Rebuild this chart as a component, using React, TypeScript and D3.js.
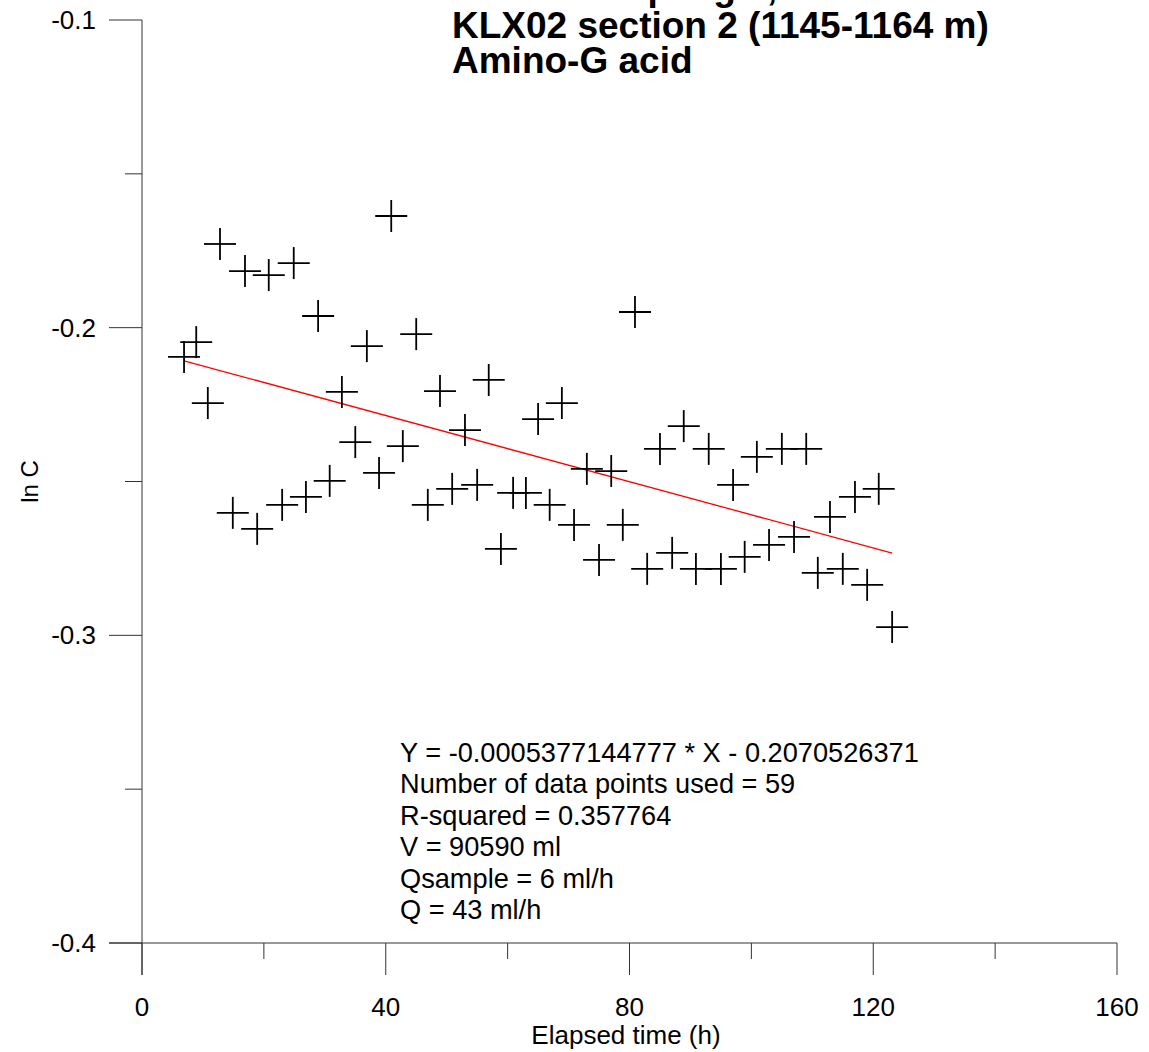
import React from "react";
import * as d3 from "d3";

const titleLines = ["Tracer sampling 2,", "KLX02 section 2 (1145-1164 m)", "Amino-G acid"];
const xTicksMajor = [0, 40, 80, 120, 160];
const xTicksMinor = [20, 60, 100, 140];
const yTicksMajor = [-0.1, -0.2, -0.3, -0.4];
const yTicksMinor = [-0.15, -0.25, -0.35];
const xLabel = "Elapsed time (h)";
const yLabel = "ln C";

const times = [
  6.9, 8.9, 10.8, 12.8, 14.9, 16.9, 18.9, 20.8, 23.0, 24.9,
  26.9, 28.9, 30.8, 32.8, 35.0, 36.9, 38.9, 40.9, 42.8, 45.0,
  46.9, 48.9, 50.9, 53.0, 55.0, 56.9, 58.9, 60.9, 63.0, 65.0,
  66.9, 68.9, 70.9, 73.0, 75.0, 77.0, 78.9, 80.9, 82.9, 85.0,
  87.0, 88.9, 90.9, 93.0, 95.0, 97.0, 98.9, 100.9, 102.9, 105.0,
  107.0, 109.0, 110.9, 112.9, 115.0, 117.0, 119.0, 120.9, 123.1,
];
const lnC = [
  -0.2095, -0.2047, -0.2245, -0.1728, -0.2602, -0.1816, -0.2654, -0.1829, -0.2576, -0.179,
  -0.255, -0.1962, -0.2498, -0.2209, -0.2372, -0.206, -0.2472, -0.1637, -0.2385, -0.2021,
  -0.2576, -0.2206, -0.2524, -0.2333, -0.2511, -0.217, -0.2719, -0.2537, -0.2537, -0.2297,
  -0.2576, -0.2245, -0.2641, -0.2459, -0.2755, -0.2466, -0.2641, -0.1949, -0.2784, -0.2394,
  -0.2732, -0.232, -0.2784, -0.2394, -0.2784, -0.2511, -0.2745, -0.242, -0.2706, -0.2394,
  -0.268, -0.2394, -0.2797, -0.2615, -0.2784, -0.255, -0.2836, -0.2524, -0.2973,
];
const slope = -0.0005377144777;
const intercept = -0.2070526371;
const infoLines = [
  "Y = -0.0005377144777 * X - 0.2070526371",
  "Number of data points used = 59",
  "R-squared = 0.357764",
  "V = 90590 ml",
  "Qsample = 6 ml/h",
  "Q = 43 ml/h",
];

const W = 1149;
const H = 1052;
const font = "'Liberation Sans', Arial, sans-serif";

export default function App() {
  const x = d3.scaleLinear().domain([0, 160]).range([142, 1117]);
  const y = d3.scaleLinear().domain([-0.4, -0.1]).range([943, 20]);
  const x0 = x(0);
  const yB = y(-0.4);
  const cs = 16;
  const fitX = d3.extent(times) as [number, number];
  const line = d3.line<number>().x((d) => x(d)).y((d) => y(slope * d + intercept));
  const axisColor = "#333";
  const titleY = [0, 38, 73];

  return (
    <svg
      width={W}
      height={H}
      style={{ position: "absolute", left: 0, top: 0, background: "#fff" }}
      fontFamily={font}
    >
      <rect x={0} y={0} width={W} height={H} fill="#fff" />
      {/* title */}
      {titleLines.map((t, i) => (
        <text key={t} x={452} y={titleY[i]} fontSize={37} fontWeight="bold" fill="#000">
          {t}
        </text>
      ))}
      {/* axes */}
      <line x1={x0} x2={x0} y1={y(-0.1)} y2={yB + 32} stroke={axisColor} strokeWidth={1} />
      <line x1={x0 - 33} x2={x(160)} y1={yB} y2={yB} stroke={axisColor} strokeWidth={1} />
      {yTicksMajor.map((v) => (
        <g key={"ym" + v}>
          <line x1={x0 - 33} x2={x0} y1={y(v)} y2={y(v)} stroke={axisColor} strokeWidth={1} />
          <text x={96} y={y(v)} dy="0.35em" textAnchor="end" fontSize={26} fill="#000">
            {v.toFixed(1)}
          </text>
        </g>
      ))}
      {yTicksMinor.map((v) => (
        <line key={"yn" + v} x1={x0 - 17} x2={x0} y1={y(v)} y2={y(v)} stroke={axisColor} strokeWidth={1} />
      ))}
      {xTicksMajor.map((v) => (
        <g key={"xm" + v}>
          <line x1={x(v)} x2={x(v)} y1={yB} y2={yB + 32} stroke={axisColor} strokeWidth={1} />
          <text x={x(v)} y={1016} textAnchor="middle" fontSize={26} fill="#000">
            {v}
          </text>
        </g>
      ))}
      {xTicksMinor.map((v) => (
        <line key={"xn" + v} x1={x(v)} x2={x(v)} y1={yB} y2={yB + 16} stroke={axisColor} strokeWidth={1} />
      ))}
      <text x={626} y={1044} textAnchor="middle" fontSize={26} fill="#000">
        {xLabel}
      </text>
      <text
        transform={`translate(38,${y(-0.25)}) rotate(-90)`}
        textAnchor="middle"
        fontSize={24}
        fill="#000"
      >
        {yLabel}
      </text>
      {/* fit line */}
      <path d={line(fitX) || ""} stroke="#f00" strokeWidth={1.3} fill="none" />
      {/* crosses */}
      {times.map((t, i) => {
        const cx = x(t);
        const cy = y(lnC[i]);
        return (
          <g key={i} stroke="#000" strokeWidth={1.8}>
            <line x1={cx - cs} x2={cx + cs} y1={cy} y2={cy} />
            <line x1={cx} x2={cx} y1={cy - cs} y2={cy + cs} />
          </g>
        );
      })}
      {/* info text */}
      {infoLines.map((t, i) => (
        <text key={t} x={400} y={762 + i * 31.4} fontSize={27.2} fill="#000">
          {t}
        </text>
      ))}
    </svg>
  );
}
